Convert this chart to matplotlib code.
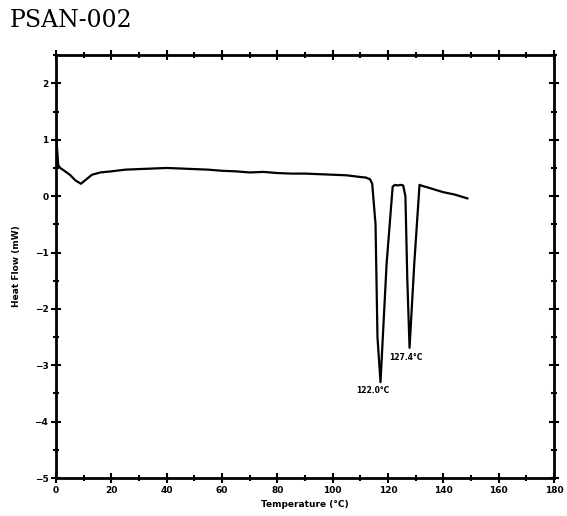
import numpy as np
import matplotlib
matplotlib.use('Agg')
import matplotlib.pyplot as plt
from matplotlib.ticker import MultipleLocator

# DSC trace
temp = [0, 0.3, 0.8, 1.5, 3, 5, 7, 9, 11, 13, 16, 20, 25, 30, 35, 40, 45, 50,
        55, 60, 65, 70, 75, 80, 85, 90, 95, 100, 105, 110, 112, 113.5, 114.3,
        115.5, 116.2, 117.3, 119.5, 121.7, 122.5, 123.5, 124.5, 125.5, 126.3,
        127.0, 127.8, 129.5, 131.4, 132.5, 134, 136, 138, 140, 142, 144, 146, 148.7]
heat_flow = [1.0, 0.9, 0.55, 0.5, 0.45, 0.38, 0.28, 0.22, 0.3, 0.38, 0.42, 0.44,
             0.47, 0.48, 0.49, 0.5, 0.49, 0.48, 0.47, 0.45, 0.44, 0.42, 0.43,
             0.41, 0.40, 0.40, 0.39, 0.38, 0.37, 0.34, 0.33, 0.3, 0.22, -0.5,
             -2.5, -3.3, -1.2, 0.17, 0.2, 0.19, 0.2, 0.19, 0.0, -1.5, -2.69,
             -1.2, 0.2, 0.18, 0.16, 0.13, 0.1, 0.07, 0.05, 0.03, 0.0, -0.04]

peak_labels = ['122.0°C', '127.4°C']
peak_label_x = [108.5, 120.6]
peak_label_y = [-3.45, -2.87]

fig = plt.figure(figsize=(5.67, 5.16), dpi=100)
ax = fig.add_axes([0.0988, 0.0736, 0.8782, 0.8194])

ax.plot(temp, heat_flow, color='black', linewidth=1.6)

for lab, lx, ly in zip(peak_labels, peak_label_x, peak_label_y):
    ax.text(lx, ly, lab, fontsize=5.5, fontweight='bold', va='center', ha='left')

ax.set_xlim(0, 180)
ax.set_ylim(-5, 2.5)
ax.xaxis.set_major_locator(MultipleLocator(20))
ax.xaxis.set_minor_locator(MultipleLocator(10))
ax.yaxis.set_major_locator(MultipleLocator(1))
ax.yaxis.set_minor_locator(MultipleLocator(0.5))
ax.tick_params(which='both', direction='inout', top=True, right=True,
               width=1.5, labelsize=6.5, pad=2)
ax.tick_params(which='major', length=7)
ax.tick_params(which='minor', length=5)
for lab in ax.get_xticklabels() + ax.get_yticklabels():
    lab.set_fontweight('bold')
for sp in ax.spines.values():
    sp.set_linewidth(2)

ax.set_xlabel('Temperature (°C)', fontsize=6.5, fontweight='bold', labelpad=4)
ax.set_ylabel('Heat Flow (mW)', fontsize=6.5, fontweight='bold', labelpad=10)

fig.text(0.018, 0.961, 'PSAN-002', fontsize=17, family='DejaVu Serif',
         va='center', ha='left')

fig.savefig('out.png', dpi=100)
